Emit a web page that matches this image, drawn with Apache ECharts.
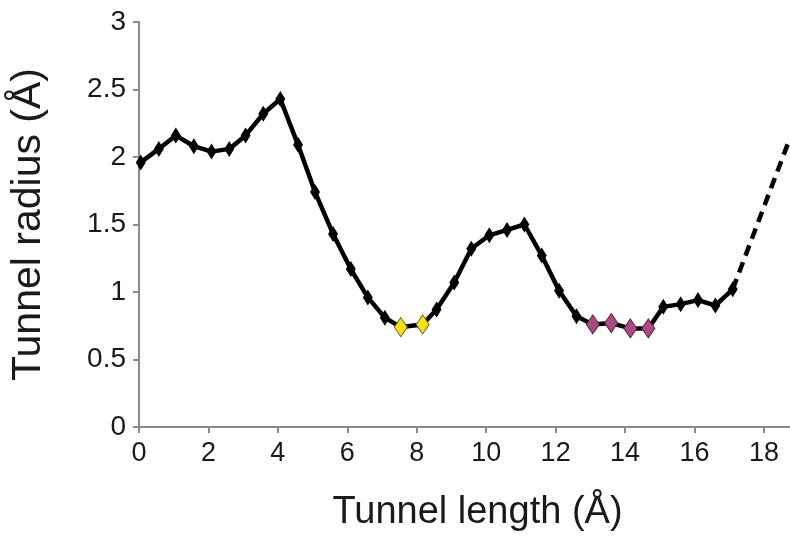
<!DOCTYPE html>
<html>
<head>
<meta charset="utf-8">
<script src="https://cdn.jsdelivr.net/npm/echarts@6/dist/echarts.min.js"></script>
<style>
  html, body { margin: 0; padding: 0; background: #fff; }
  #chart { width: 790px; height: 537px; }
</style>
</head>
<body>
<div id="chart"></div>
<script>
// Tunnel profile: position along the tunnel (Å) and radius at each step (Å)
const tunnelLength = [0.05, 0.57, 1.06, 1.58, 2.09, 2.6, 3.07, 3.58, 4.07, 4.58,
  5.07, 5.59, 6.1, 6.59, 7.08, 7.54, 8.17, 8.57, 9.08, 9.57,
  10.09, 10.6, 11.1, 11.6, 12.1, 12.6, 13.07, 13.6, 14.15, 14.67,
  15.1, 15.6, 16.1, 16.6, 17.1];
const tunnelRadius = [1.96, 2.06, 2.16, 2.08, 2.04, 2.06, 2.16, 2.32, 2.43, 2.09,
  1.74, 1.43, 1.17, 0.96, 0.81, 0.74, 0.76, 0.87, 1.07, 1.32,
  1.42, 1.46, 1.50, 1.27, 1.01, 0.82, 0.76, 0.77, 0.73, 0.73,
  0.89, 0.91, 0.94, 0.90, 1.02];

// Bottleneck points (indices into the profile)
const bottleneckFirst = [15, 16];
const bottleneckSecond = [26, 27, 28, 29];

// Extrapolated mouth of the tunnel
const mouthLength = [17.1, 18.75];
const mouthRadius = [1.02, 2.14];

const xTicks = [0, 2, 4, 6, 8, 10, 12, 14, 16, 18];
const yTicks = [0, 0.5, 1, 1.5, 2, 2.5, 3];

const FONT = '"Liberation Sans", Arial, sans-serif';

const profileData = tunnelLength.map((x, i) => {
  const item = { value: [x, tunnelRadius[i]] };
  if (bottleneckFirst.includes(i)) {
    item.symbolSize = [13, 19];
    item.itemStyle = { color: '#f2e21a', borderColor: '#6b6420', borderWidth: 1 };
  } else if (bottleneckSecond.includes(i)) {
    item.symbolSize = [13, 19];
    item.itemStyle = { color: '#a94a82', borderColor: '#5a2a46', borderWidth: 1 };
  }
  return item;
});

const chart = echarts.init(document.getElementById('chart'), null, { renderer: 'canvas' });
chart.setOption({
  animation: false,
  backgroundColor: '#ffffff',
  grid: { left: 135, right: 0, top: 22, bottom: 109, containLabel: false },
  xAxis: {
    type: 'value',
    min: 0,
    max: 18.75,
    interval: 2,
    name: 'Tunnel length (Å)',
    nameLocation: 'middle',
    nameGap: 67,
    nameTextStyle: { fontFamily: FONT, fontSize: 38, color: '#1a1a1a', padding: [0, 0, 0, 26] },
    axisLine: { show: true, lineStyle: { color: '#8a8a8a', width: 2 } },
    axisTick: { show: true, length: 6, lineStyle: { color: '#8a8a8a', width: 2 } },
    axisLabel: {
      fontFamily: FONT, fontSize: 27, color: '#1a1a1a', margin: 13,
      showMaxLabel: false,
      formatter: v => (xTicks.includes(v) ? String(v) : '')
    },
    splitLine: { show: false }
  },
  yAxis: {
    type: 'value',
    min: 0,
    max: 3,
    interval: 0.5,
    name: 'Tunnel radius (Å)',
    nameLocation: 'middle',
    nameGap: 90,
    nameTextStyle: { fontFamily: FONT, fontSize: 41, color: '#1a1a1a' },
    axisLine: { show: true, lineStyle: { color: '#8a8a8a', width: 2 } },
    axisTick: { show: true, length: 6, lineStyle: { color: '#8a8a8a', width: 2 } },
    axisLabel: {
      fontFamily: FONT, fontSize: 28, color: '#1a1a1a', margin: 13,
      formatter: v => (yTicks.includes(v) ? String(v) : '')
    },
    splitLine: { show: false }
  },
  series: [
    {
      type: 'line',
      data: mouthLength.map((x, i) => [x, mouthRadius[i]]),
      symbol: 'none',
      lineStyle: { color: '#000', width: 4.5, type: [11, 7] },
      z: 2
    },
    {
      type: 'line',
      data: profileData,
      symbol: 'diamond',
      symbolSize: [10, 16],
      showAllSymbol: true,
      itemStyle: { color: '#000' },
      lineStyle: { color: '#000', width: 4.5 },
      z: 3
    }
  ]
});
</script>
</body>
</html>
